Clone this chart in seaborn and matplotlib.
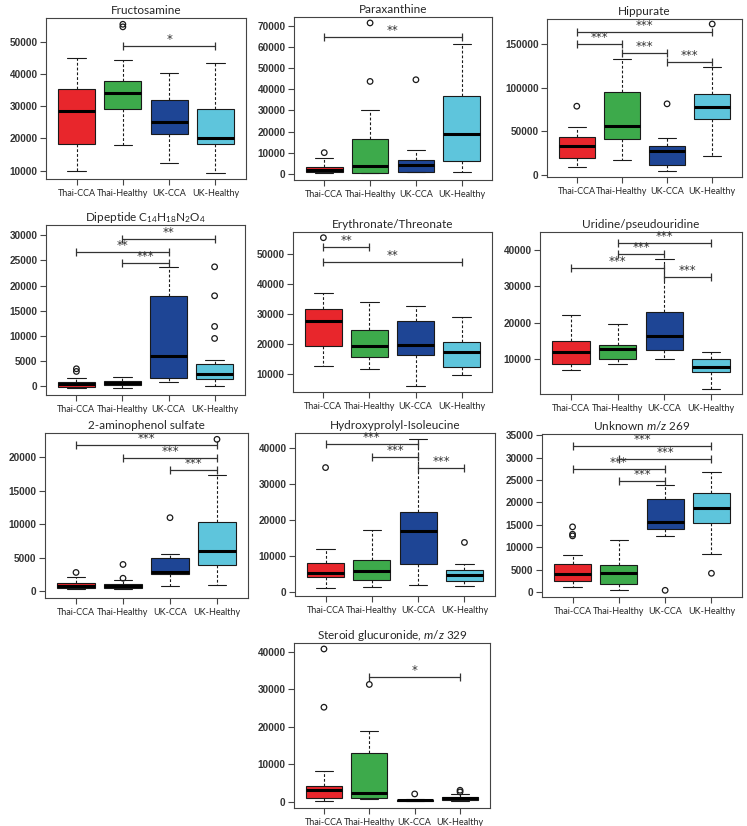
import pandas as pd
import matplotlib.pyplot as plt
import seaborn as sns

groups = ["Thai-CCA", "Thai-Healthy", "UK-CCA", "UK-Healthy"]
colors = ["#E8262C", "#3DAA4B", "#1E4595", "#5EC5DC"]

# per group: lower whisker, Q1, median, Q3, upper whisker
fructosamine_box = [[9900, 18400, 28400, 35500, 44900],
                    [18100, 29100, 34100, 37800, 44500],
                    [12500, 21400, 25100, 31900, 40400],
                    [9300, 18300, 20100, 29300, 43500]]
fructosamine_out = [[], [54700, 55500], [], []]
fructosamine_sig = [(1, 3, 48800, "*")]

paraxanthine_box = [[300, 800, 1900, 3500, 7400],
                    [300, 300, 3900, 16400, 30400],
                    [950, 1100, 4100, 6500, 11200],
                    [950, 6300, 18900, 36900, 61500]]
paraxanthine_out = [[10100], [43700, 71300], [44500], []]
paraxanthine_sig = [(0, 3, 64500, "**")]

hippurate_box = [[9500, 19400, 33100, 43400, 54800],
                 [17900, 41100, 56700, 94800, 132900],
                 [5300, 11400, 27400, 33500, 42600],
                 [21700, 64000, 78100, 92200, 123000]]
hippurate_out = [[78800], [], [81500], [172500]]
hippurate_sig = [(0, 3, 163700, "***"), (0, 1, 149300, "***"),
                 (1, 2, 139800, "***"), (2, 3, 129500, "***")]

dipeptide_box = [[-400, -70, 460, 860, 1720],
                 [-330, 260, 730, 1060, 1920],
                 [790, 1590, 6080, 17970, 23580],
                 [0, 1450, 2510, 4430, 5280]]
dipeptide_out = [[2970, 3500], [], [], [9510, 11890, 17970, 23710]]
dipeptide_sig = [(1, 3, 29130, "**"), (0, 2, 26620, "**"), (1, 2, 24370, "***")]

erythronate_box = [[12430, 19280, 27460, 31550, 36850],
                   [11660, 15520, 19170, 24590, 33980],
                   [5910, 16080, 19500, 27460, 32540],
                   [9450, 12100, 17180, 20500, 29010]]
erythronate_out = [[55300], [], [], []]
erythronate_sig = [(0, 1, 52100, "**"), (0, 3, 47240, "**")]

uridine_box = [[7100, 8730, 11990, 15170, 22240],
               [8730, 10180, 12810, 13900, 19610],
               [10000, 12450, 16440, 22870, 37560],
               [2020, 6560, 7820, 10000, 11990]]
uridine_out = [[], [], [], []]
uridine_sig = [(1, 3, 41820, "***"), (1, 2, 38830, "***"),
               (0, 2, 34840, "***"), (2, 3, 32570, "***")]

aminophenol_box = [[350, 490, 740, 1190, 2070],
                   [300, 540, 790, 1140, 1700],
                   [740, 2570, 2910, 4940, 5580],
                   [890, 3900, 5980, 10270, 17380]]
aminophenol_out = [[2810], [1950, 4000], [10960], [22620]]
aminophenol_sig = [(0, 3, 21730, "***"), (1, 3, 19900, "***"), (2, 3, 18020, "***")]

hydroxyprolyl_box = [[920, 4160, 5080, 7850, 11730],
                     [1290, 3140, 5820, 8780, 17180],
                     [1850, 7670, 16720, 22260, 42310],
                     [1480, 2960, 4530, 6100, 7670]]
hydroxyprolyl_out = [[34460], [], [], [13670]]
hydroxyprolyl_sig = [(0, 2, 40920, "***"), (1, 2, 37320, "***"), (2, 3, 34370, "***")]

unknown_box = [[1120, 2530, 4100, 6260, 8200],
               [520, 1790, 4170, 5960, 11620],
               [12590, 14080, 15570, 20720, 23840],
               [8570, 15420, 18630, 21980, 26830]]
unknown_out = [[12520, 12890, 14530], [], [370], [4170]]
unknown_sig = [(0, 3, 32490, "***"), (1, 3, 29730, "***"),
               (0, 2, 27350, "***"), (1, 2, 24810, "***")]

steroid_box = [[360, 1160, 3210, 4370, 8200],
               [800, 980, 2410, 13100, 18800],
               [200, 300, 450, 620, 800],
               [360, 620, 980, 1250, 2050]]
steroid_out = [[25210, 40710], [31270], [2140], [2670, 3120]]
steroid_sig = [(1, 3, 33140, "*")]

# layout: axes box in pixels (left, top, right, bottom), y limits, y ticks
panels = [
    ("Fructosamine", fructosamine_box, fructosamine_out, fructosamine_sig,
     (46, 18, 246, 179), (7400, 57450), range(10000, 50001, 10000)),
    ("Paraxanthine", paraxanthine_box, paraxanthine_out, paraxanthine_sig,
     (294, 17, 492, 180), (-2800, 74100), range(0, 70001, 10000)),
    ("Hippurate", hippurate_box, hippurate_out, hippurate_sig,
     (547, 19, 742, 177), (-1900, 178200), range(0, 150001, 50000)),
    ("Dipeptide C$_{14}$H$_{18}$N$_2$O$_4$", dipeptide_box, dipeptide_out, dipeptide_sig,
     (46, 225, 245, 395), (-1700, 32000), range(0, 30001, 5000)),
    ("Erythronate/Threonate", erythronate_box, erythronate_out, erythronate_sig,
     (293, 232, 492, 392), (3900, 57200), range(10000, 50001, 10000)),
    ("Uridine/pseudouridine", uridine_box, uridine_out, uridine_sig,
     (540, 232, 742, 394), (570, 44800), range(10000, 40001, 10000)),
    ("2-aminophenol sulfate", aminophenol_box, aminophenol_out, aminophenol_sig,
     (45, 433, 248, 598), (-990, 23560), range(0, 20001, 5000)),
    ("Hydroxyprolyl-Isoleucine", hydroxyprolyl_box, hydroxyprolyl_out, hydroxyprolyl_sig,
     (295, 433, 495, 596), (-1200, 44060), range(0, 40001, 10000)),
    ("Unknown $m/z$ 269", unknown_box, unknown_out, unknown_sig,
     (542, 434, 742, 597), (-1120, 35250), range(0, 35001, 5000)),
    ("Steroid glucuronide, $m/z$ 329", steroid_box, steroid_out, steroid_sig,
     (294, 643, 490, 808), (-1600, 42300), range(0, 40001, 10000)),
]

sns.set_style("white")
plt.rcParams["font.family"] = ["Lato", "DejaVu Sans"]
plt.rcParams["mathtext.fontset"] = "custom"
plt.rcParams["mathtext.rm"] = "Lato"
plt.rcParams["mathtext.it"] = "Lato:italic"

W, H = 747, 826
fig = plt.figure(figsize=(W / 100, H / 100), dpi=100)

for title, box, out, sig, (l, t, r, b), ylim, yticks in panels:
    ax = fig.add_axes([l / W, 1 - b / H, (r - l) / W, (b - t) / H])

    # rows whose quartiles / extremes reproduce the read summary stats
    rows = []
    for g, (lo, q1, med, q3, hi) in zip(groups, box):
        for v in [lo, q1, q1, med, q3, q3, hi]:
            rows.append({"group": g, "value": v})
    df = pd.DataFrame(rows)

    sns.boxplot(data=df, x="group", y="value", hue="group", order=groups,
                hue_order=groups, palette=colors, saturation=1, legend=False,
                whis=(0, 100), showfliers=False, width=0.8, ax=ax,
                linecolor="#1a1a1a", linewidth=0.8,
                medianprops={"linewidth": 2.2, "color": "black"},
                whiskerprops={"linestyle": (0, (2.5, 1.8))})

    for gi, vals in enumerate(out):
        if vals:
            ax.scatter([gi] * len(vals), vals, s=16, facecolors="none",
                       edgecolors="#1a1a1a", linewidths=0.9, zorder=3)

    for i, j, y, stars in sig:
        ax.plot([i, j], [y, y], color="#333333", lw=0.9, marker="|",
                markersize=6, markeredgewidth=0.9)
        ax.text((i + j) / 2, y, stars, ha="center", va="bottom",
                fontsize=8.5, color="#333333", family="DejaVu Sans")

    ax.set_xlim(-0.66, 3.66)
    ax.set_ylim(*ylim)
    ax.set_yticks(list(yticks))
    ax.set_xlabel("")
    ax.set_ylabel("")
    ax.set_title(title, fontsize=8.5, pad=3)
    for s in ax.spines.values():
        s.set_color("#444444")
        s.set_linewidth(0.8)
    ax.tick_params(axis="both", direction="out", length=4, width=0.8,
                   color="#444444", left=True, bottom=True)
    ax.tick_params(axis="x", labelsize=6.5, pad=3)
    ax.tick_params(axis="y", labelsize=7.2, pad=2, labelcolor="#333333",
                   labelfontfamily="Liberation Sans")
    for lab in ax.get_yticklabels():
        lab.set_fontweight("bold")

fig.savefig("out.png", dpi=100, facecolor="white")
